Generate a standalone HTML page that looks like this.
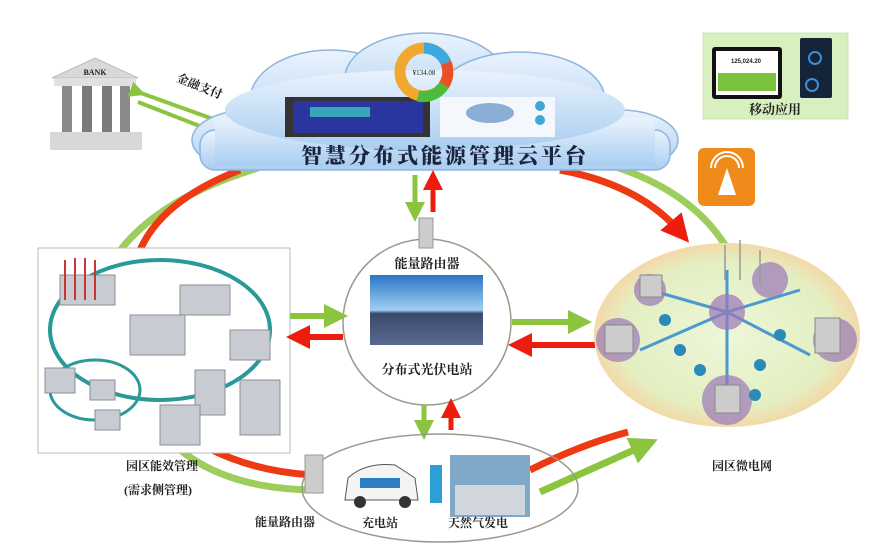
<!DOCTYPE html>
<html><head><meta charset="utf-8"><style>
html,body{margin:0;padding:0;background:#fff}
svg{display:block}
text{font-family:"Liberation Serif","Noto Serif CJK SC","Noto Sans CJK SC",serif;font-weight:bold;fill:#222}
</style></head><body>
<svg width="888" height="550" viewBox="0 0 888 550" xmlns="http://www.w3.org/2000/svg">
<defs>
<linearGradient id="cl" x1="0" y1="0" x2="0" y2="1"><stop offset="0" stop-color="#eaf3fd"/><stop offset="1" stop-color="#a9cdf0"/></linearGradient>
<radialGradient id="mg" cx="0.5" cy="0.5" r="0.5"><stop offset="0" stop-color="#eef6d8"/><stop offset="0.8" stop-color="#e3efc2"/><stop offset="1" stop-color="#f3d9a8"/></radialGradient>
<linearGradient id="sky" x1="0" y1="0" x2="0" y2="1"><stop offset="0" stop-color="#2a74c8"/><stop offset="0.5" stop-color="#9fcff0"/><stop offset="0.55" stop-color="#3a4a6a"/><stop offset="1" stop-color="#5a6890"/></linearGradient>
<marker id="ag" markerWidth="4" markerHeight="4" refX="2" refY="2" orient="auto"><path d="M0,0 L4,2 L0,4z" fill="#8cc43f"/></marker>
<marker id="ar" markerWidth="4" markerHeight="4" refX="2" refY="2" orient="auto"><path d="M0,0 L4,2 L0,4z" fill="#ee1c0e"/></marker>
</defs>

<!-- big arcs -->
<path d="M258,168 Q120,210 95,300" stroke="#8cc43f" stroke-width="7" fill="none" opacity="0.85"/>
<path d="M240,170 Q150,205 135,265" stroke="#ee3a12" stroke-width="7" fill="none"/>
<path d="M610,165 Q690,190 725,245" stroke="#8cc43f" stroke-width="7" fill="none" opacity="0.85"/>
<path d="M560,170 Q640,185 680,232" stroke="#ee3a12" stroke-width="7" fill="none" marker-end="url(#ar)"/>
<path d="M172,425 Q230,470 312,475" stroke="#ee3a12" stroke-width="7" fill="none"/>
<path d="M160,430 Q210,490 318,490" stroke="#8cc43f" stroke-width="7" fill="none" opacity="0.85"/>
<path d="M530,470 Q580,445 628,432" stroke="#ee3a12" stroke-width="7" fill="none"/>
<path d="M540,492 Q600,465 645,445" stroke="#8cc43f" stroke-width="7" fill="none" marker-end="url(#ag)"/>

<!-- bank -->
<polygon points="52,78 95,58 138,78" fill="#d9d9d9" stroke="#bbb"/>
<text x="95" y="75" font-size="8" text-anchor="middle" style="font-family:'Liberation Serif',serif">BANK</text>
<rect x="54" y="78" width="82" height="8" fill="#e0e0e0"/>
<rect x="62" y="86" width="10" height="46" fill="#8a8a8a"/><rect x="82" y="86" width="10" height="46" fill="#7a7a7a"/>
<rect x="102" y="86" width="10" height="46" fill="#7a7a7a"/><rect x="120" y="86" width="10" height="46" fill="#8a8a8a"/>
<rect x="50" y="132" width="92" height="18" fill="#d8d8d8"/>
<line x1="138" y1="92" x2="238" y2="128" stroke="#8cc43f" stroke-width="4" marker-start="url(#ag)"/>
<line x1="138" y1="102" x2="215" y2="132" stroke="#8cc43f" stroke-width="4" marker-end="url(#ag)"/>
<text x="198" y="90" font-size="12" transform="rotate(22 198 90)" text-anchor="middle">金融支付</text>

<!-- cloud -->
<g fill="url(#cl)" stroke="#8fb4dd" stroke-width="1.5">
<ellipse cx="250" cy="140" rx="58" ry="30"/>
<ellipse cx="330" cy="100" rx="80" ry="50"/>
<ellipse cx="425" cy="78" rx="80" ry="45"/>
<ellipse cx="520" cy="100" rx="85" ry="48"/>
<ellipse cx="620" cy="140" rx="58" ry="30"/>
<rect x="200" y="130" width="470" height="40" rx="15"/>
</g>
<g fill="url(#cl)"><rect x="215" y="118" width="440" height="48"/><ellipse cx="425" cy="110" rx="200" ry="40"/></g>
<rect x="285" y="97" width="145" height="40" fill="#333"/>
<rect x="293" y="101" width="130" height="32" fill="#2a35a0"/>
<rect x="310" y="107" width="60" height="10" fill="#38a6b8"/>
<rect x="440" y="97" width="115" height="40" fill="#f4f7fb"/>
<ellipse cx="490" cy="113" rx="24" ry="10" fill="#8aaed6"/>
<circle cx="540" cy="106" r="5" fill="#40a8d8"/><circle cx="540" cy="120" r="5" fill="#40a8d8"/>
<circle cx="424" cy="72" r="24" fill="none" stroke="#f0a830" stroke-width="11"/>
<path d="M424,48 A24,24 0 0 1 446,63" stroke="#3ba8e0" stroke-width="11" fill="none"/>
<path d="M446,63 A24,24 0 0 1 444,85" stroke="#e8502a" stroke-width="11" fill="none"/>
<path d="M444,85 A24,24 0 0 1 418,96" stroke="#4cbc3c" stroke-width="11" fill="none"/>
<text x="424" y="75" font-size="7" text-anchor="middle" style="font-weight:normal">¥134.08</text>
<text x="445" y="163" font-size="21" text-anchor="middle" style="fill:#1a2540;letter-spacing:3px;font-weight:900">智慧分布式能源管理云平台</text>

<!-- mobile -->
<rect x="703" y="33" width="145" height="86" fill="#d8f0c0" stroke="#cde3b8"/>
<rect x="712" y="47" width="70" height="52" fill="#111" rx="3"/>
<rect x="716" y="51" width="62" height="44" fill="#fff"/>
<rect x="718" y="73" width="58" height="18" fill="#7ac23c"/>
<text x="746" y="63" font-size="6" text-anchor="middle" style="font-family:'Liberation Sans',sans-serif">125,024.20</text>
<rect x="800" y="38" width="32" height="60" fill="#16243a" rx="2"/>
<circle cx="815" cy="58" r="6" fill="none" stroke="#3a8fd8" stroke-width="2"/>
<circle cx="812" cy="85" r="6" fill="none" stroke="#3a8fd8" stroke-width="2"/>
<text x="775" y="114" font-size="13" text-anchor="middle">移动应用</text>
<rect x="698" y="148" width="57" height="58" rx="6" fill="#f08a1a"/>
<path d="M718,195 L727,168 L736,195z" fill="#fff"/>
<path d="M715,168 a12,12 0 0 1 24,0 M711,168 a16,16 0 0 1 32,0" stroke="#fff" stroke-width="2" fill="none"/>

<!-- left box -->
<rect x="38" y="248" width="252" height="205" fill="#fff" stroke="#bbb"/>
<ellipse cx="160" cy="330" rx="110" ry="70" fill="none" stroke="#2a9a98" stroke-width="4"/>
<ellipse cx="95" cy="390" rx="45" ry="30" fill="none" stroke="#2a9a98" stroke-width="3"/>
<g fill="#c8ccd2" stroke="#8a9098">
<rect x="60" y="275" width="55" height="30"/><rect x="180" y="285" width="50" height="30"/>
<rect x="130" y="315" width="55" height="40"/><rect x="230" y="330" width="40" height="30"/>
<rect x="195" y="370" width="30" height="45"/><rect x="240" y="380" width="40" height="55"/>
<rect x="160" y="405" width="40" height="40"/><rect x="45" y="368" width="30" height="25"/>
<rect x="90" y="380" width="25" height="20"/><rect x="95" y="410" width="25" height="20"/>
</g>
<g stroke="#c33" stroke-width="2"><line x1="65" y1="260" x2="65" y2="300"/><line x1="75" y1="258" x2="75" y2="300"/><line x1="85" y1="258" x2="85" y2="300"/><line x1="95" y1="260" x2="95" y2="300"/></g>
<text x="162" y="470" font-size="12" text-anchor="middle">园区能效管理</text>
<text x="158" y="494" font-size="12" text-anchor="middle">(需求侧管理)</text>

<!-- center circle -->
<ellipse cx="427" cy="322" rx="84" ry="83" fill="#fff" stroke="#9a9a8a" stroke-width="1.5"/>
<rect x="370" y="275" width="113" height="70" fill="url(#sky)"/>
<text x="427" y="268" font-size="13" text-anchor="middle">能量路由器</text>
<text x="427" y="374" font-size="13" text-anchor="middle">分布式光伏电站</text>
<rect x="419" y="218" width="14" height="30" fill="#ccc" stroke="#999"/>
<line x1="415" y1="175" x2="415" y2="212" stroke="#8cc43f" stroke-width="5" marker-end="url(#ag)"/>
<line x1="433" y1="212" x2="433" y2="180" stroke="#ee1c0e" stroke-width="5" marker-end="url(#ar)"/>
<line x1="290" y1="316" x2="336" y2="316" stroke="#8cc43f" stroke-width="6" marker-end="url(#ag)"/>
<line x1="343" y1="337" x2="298" y2="337" stroke="#ee1c0e" stroke-width="6" marker-end="url(#ar)"/>
<line x1="512" y1="322" x2="580" y2="322" stroke="#8cc43f" stroke-width="6" marker-end="url(#ag)"/>
<line x1="595" y1="345" x2="520" y2="345" stroke="#ee1c0e" stroke-width="6" marker-end="url(#ar)"/>
<line x1="424" y1="405" x2="424" y2="430" stroke="#8cc43f" stroke-width="5" marker-end="url(#ag)"/>
<line x1="451" y1="430" x2="451" y2="408" stroke="#ee1c0e" stroke-width="5" marker-end="url(#ar)"/>

<!-- bottom ellipse -->
<ellipse cx="440" cy="488" rx="138" ry="54" fill="none" stroke="#9a9a8a" stroke-width="1.5"/>
<rect x="305" y="455" width="18" height="38" fill="#ccc" stroke="#999"/>
<path d="M345,500 L348,478 Q365,462 395,465 L415,478 L418,500z" fill="#f4f4f4" stroke="#555"/>
<rect x="360" y="478" width="40" height="10" fill="#2d7fc4"/>
<circle cx="360" cy="502" r="6" fill="#333"/><circle cx="405" cy="502" r="6" fill="#333"/>
<rect x="430" y="465" width="12" height="38" fill="#2d9fd8"/>
<rect x="450" y="455" width="80" height="62" fill="#7fa8c8"/>
<rect x="455" y="485" width="70" height="30" fill="#d0d6dc"/>
<text x="285" y="526" font-size="12" text-anchor="middle">能量路由器</text>
<text x="380" y="527" font-size="12" text-anchor="middle">充电站</text>
<text x="478" y="527" font-size="12" text-anchor="middle">天然气发电</text>

<!-- microgrid -->
<ellipse cx="727" cy="335" rx="133" ry="92" fill="url(#mg)"/>
<g stroke="#4a9ad0" stroke-width="3">
<line x1="727" y1="312" x2="650" y2="290"/><line x1="727" y1="312" x2="800" y2="290"/>
<line x1="727" y1="312" x2="640" y2="350"/><line x1="727" y1="312" x2="810" y2="355"/>
<line x1="727" y1="312" x2="727" y2="400"/><line x1="727" y1="312" x2="727" y2="270"/>
</g>
<g fill="#9a78b8" opacity="0.7">
<circle cx="727" cy="312" r="18"/><circle cx="770" cy="280" r="18"/><circle cx="650" cy="290" r="16"/>
<circle cx="618" cy="340" r="22"/><circle cx="835" cy="340" r="22"/><circle cx="727" cy="400" r="25"/>
</g>
<g fill="#ccc" stroke="#888"><rect x="605" y="325" width="28" height="28"/><rect x="815" y="318" width="25" height="35"/><rect x="715" y="385" width="25" height="28"/><rect x="640" y="275" width="22" height="22"/></g>
<g fill="#2a8ab8"><circle cx="680" cy="350" r="6"/><circle cx="700" cy="370" r="6"/><circle cx="760" cy="365" r="6"/><circle cx="780" cy="335" r="6"/><circle cx="665" cy="320" r="6"/><circle cx="755" cy="395" r="6"/></g>
<g stroke="#999" stroke-width="1.5"><line x1="725" y1="245" x2="725" y2="280"/><line x1="740" y1="240" x2="740" y2="280"/><line x1="760" y1="250" x2="760" y2="285"/></g>
<text x="742" y="470" font-size="12" text-anchor="middle">园区微电网</text>
</svg>
</body></html>
